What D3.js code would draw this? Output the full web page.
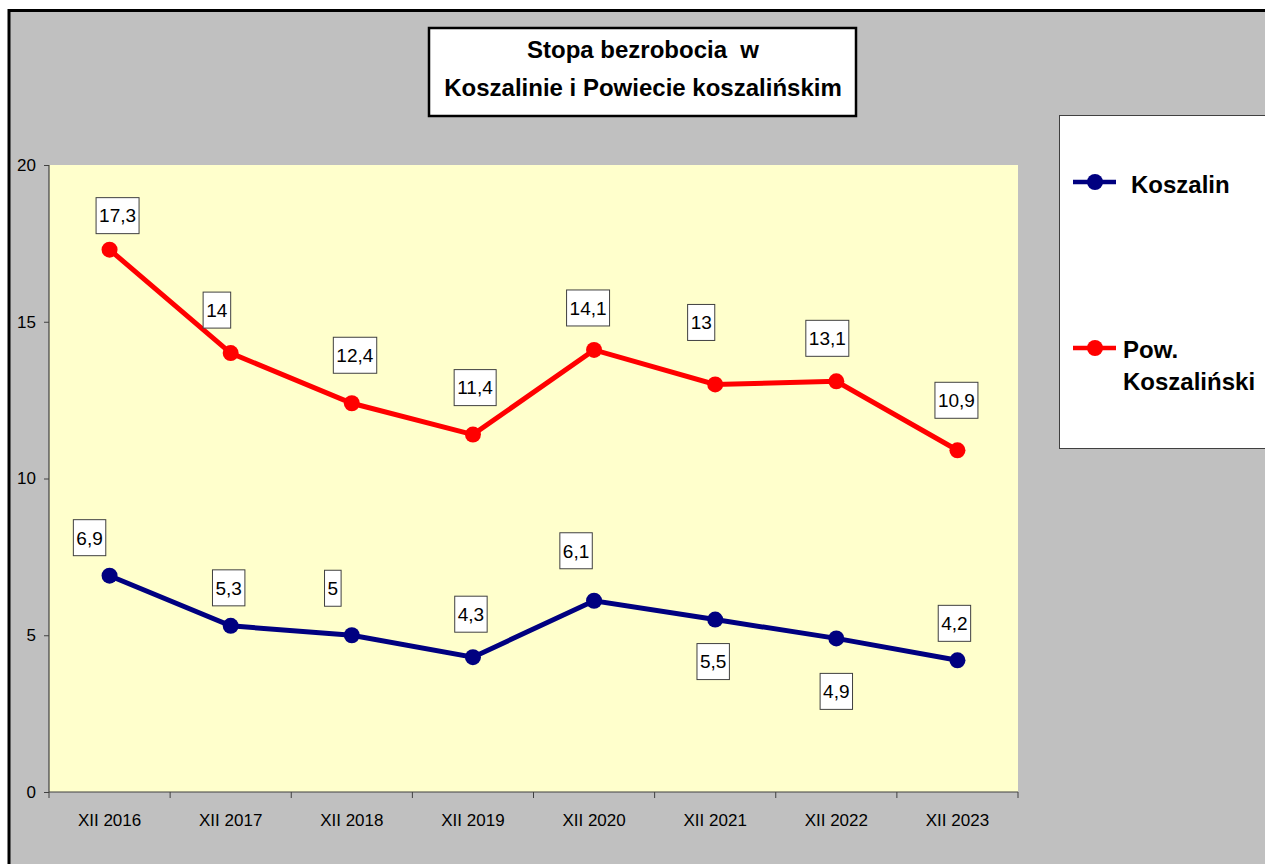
<!DOCTYPE html>
<html>
<head>
<meta charset="utf-8">
<script src="https://cdn.jsdelivr.net/npm/d3@7/dist/d3.min.js"></script>
<style>
  body { margin: 0; background: #fff; }
  svg { display: block; font-family: "Liberation Sans", Arial, sans-serif; }
</style>
</head>
<body>
<div id="chart-area"></div>
<script>
// data
var years = ["XII 2016", "XII 2017", "XII 2018", "XII 2019", "XII 2020", "XII 2021", "XII 2022", "XII 2023"];
var koszalin = [6.9, 5.3, 5, 4.3, 6.1, 5.5, 4.9, 4.2];
var powiat = [17.3, 14, 12.4, 11.4, 14.1, 13, 13.1, 10.9];
var yTicks = [0, 5, 10, 15, 20];

// label nudges (box centre relative to point), Excel put them by hand
var powiatNudge = [[8, -34], [-14, -43], [3, -48], [2, -47], [-6, -42], [-14, -62], [-9, -43], [-1, -50]];
var koszalinNudge = [[-20, -38], [-2, -38], [-19, -47], [-2, -43], [-18, -50], [-2, 42], [0, 53], [-3, -37]];

var W = 1265, H = 864;
var svg = d3.select("#chart-area").append("svg")
    .attr("width", W)
    .attr("height", H);

// grey chart area with the black frame
svg.append("rect")
    .attr("x", 9).attr("y", 10.5)
    .attr("width", W + 10).attr("height", H + 10)
    .attr("fill", "#c0c0c0")
    .attr("stroke", "#000")
    .attr("stroke-width", 3);

var x = d3.scaleBand()
    .domain(years)
    .range([49, 1018]);

var y = d3.scaleLinear()
    .domain([0, 20])
    .range([792, 165]);

svg.append("rect")
    .attr("x", 49).attr("y", y(20))
    .attr("width", 1018 - 49).attr("height", y(0) - y(20))
    .attr("fill", "#ffffcc");

// axes
var yAxis = svg.append("g")
    .attr("transform", "translate(49,0)")
    .call(d3.axisLeft(y).tickValues(yTicks).tickSize(5).tickPadding(8));

var xAxis = svg.append("g")
    .attr("transform", "translate(0,792)")
    .call(d3.axisBottom(x).tickSize(0).tickPadding(22));

// ticks at band edges
var edges = years.map((d) => x(d)).concat([x.range()[1]]);
xAxis.selectAll(".edge")
    .data(edges)
    .enter().append("line")
    .attr("x1", (d) => d).attr("x2", (d) => d)
    .attr("y1", 0).attr("y2", 6)
    .attr("stroke", "#404040");

[yAxis, xAxis].forEach((g) => {
  g.select(".domain").attr("stroke", "#404040").attr("stroke-width", 1.2);
  g.selectAll(".tick line").attr("stroke", "#404040");
  g.selectAll("text").attr("fill", "#000").style("font-size", "17px")
    .style("font-family", "'Liberation Sans', Arial, sans-serif");
});
yAxis.select(".domain").attr("d", "M0," + y(20) + "V" + y(0));
xAxis.select(".domain").attr("d", "M49,0H1018");

var line = d3.line()
    .x((d, i) => x(years[i]) + x.bandwidth() / 2)
    .y((d) => y(d));

var series = [
  { name: "Koszalin", values: koszalin, color: "#000080", nudge: koszalinNudge },
  { name: "Pow. Koszaliński", values: powiat, color: "#ff0000", nudge: powiatNudge }
];

series.forEach((s) => {
  svg.append("path")
      .attr("d", line(s.values))
      .attr("fill", "none")
      .attr("stroke", s.color)
      .attr("stroke-width", 5);

  svg.selectAll(null)
      .data(s.values)
      .enter().append("circle")
      .attr("cx", (d, i) => x(years[i]) + x.bandwidth() / 2)
      .attr("cy", (d) => y(d))
      .attr("r", 8)
      .attr("fill", s.color);

  var labels = svg.selectAll(null)
      .data(s.values)
      .enter().append("g")
      .attr("transform", (d, i) => "translate(" + (x(years[i]) + x.bandwidth() / 2 + s.nudge[i][0]) +
            "," + (y(d) + s.nudge[i][1]) + ")");

  labels.append("text")
      .attr("text-anchor", "middle")
      .attr("dy", "0.36em")
      .style("font-size", "19px")
      .text((d) => String(d).replace(".", ","));

  labels.insert("rect", "text")
      .each(function () {
        var bb = this.parentNode.querySelector("text").getBBox();
        d3.select(this)
            .attr("x", bb.x - 3).attr("y", -18)
            .attr("width", bb.width + 6).attr("height", 36);
      })
      .attr("fill", "#fff")
      .attr("stroke", "#404040")
      .attr("stroke-width", 1);
});

// title box
svg.append("rect")
    .attr("x", 429).attr("y", 28)
    .attr("width", 427).attr("height", 88)
    .attr("fill", "#fff")
    .attr("stroke", "#000")
    .attr("stroke-width", 2.5);

svg.append("text")
    .attr("x", 643).attr("y", 58)
    .attr("text-anchor", "middle")
    .style("font-size", "24px").style("font-weight", "bold")
    .attr("xml:space", "preserve")
    .text("Stopa bezrobocia  w");

svg.append("text")
    .attr("x", 643).attr("y", 96)
    .attr("text-anchor", "middle")
    .style("font-size", "24px").style("font-weight", "bold")
    .text("Koszalinie i Powiecie koszalińskim");

// legend
svg.append("rect")
    .attr("x", 1059.5).attr("y", 115.5)
    .attr("width", 220).attr("height", 333)
    .attr("fill", "#fff")
    .attr("stroke", "#404040")
    .attr("stroke-width", 1);

var legendY = [182, 348];
series.forEach((s, i) => {
  var g = svg.append("g").attr("transform", "translate(0," + legendY[i] + ")");
  g.append("line")
      .attr("x1", 1073).attr("x2", 1116)
      .attr("stroke", s.color).attr("stroke-width", 4.5);
  g.append("circle")
      .attr("cx", 1095).attr("r", 8)
      .attr("fill", s.color);
});

svg.append("text")
    .attr("x", 1131).attr("y", 193)
    .style("font-size", "24px").style("font-weight", "bold")
    .text("Koszalin");

var pow = svg.append("text")
    .attr("x", 1123).attr("y", 358)
    .style("font-size", "24px").style("font-weight", "bold");
pow.append("tspan").attr("x", 1123).text("Pow.");
pow.append("tspan").attr("x", 1123).attr("dy", 32).text("Koszaliński");
</script>
</body>
</html>
